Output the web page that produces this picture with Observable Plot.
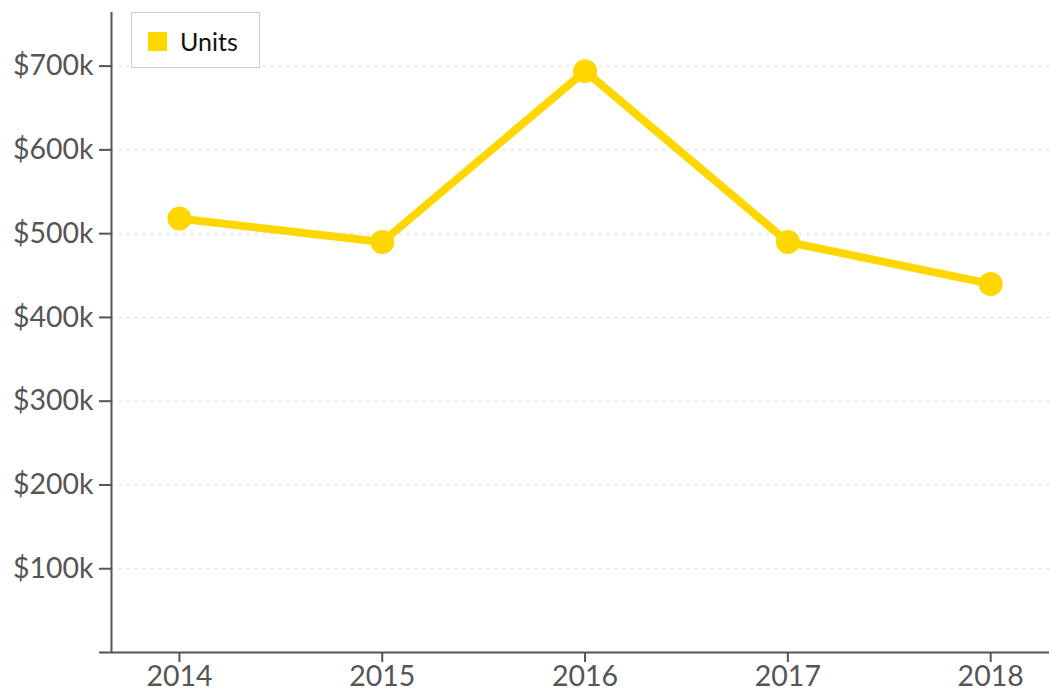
<!DOCTYPE html>
<html>
<head>
<meta charset="utf-8">
<script src="https://cdn.jsdelivr.net/npm/d3@7"></script>
<script src="https://cdn.jsdelivr.net/npm/@observablehq/plot@0.6"></script>
<style>
  html, body { margin: 0; padding: 0; background: #fff; }
  #wrap { position: relative; width: 1049px; height: 695px; font-family: Lato, sans-serif; }
  #legend { position: absolute; left: 131px; top: 12px; width: 127px; height: 54px; border: 1px solid #ccc; box-sizing: content-box; background: #fff; }
  #legend .sw { position: absolute; left: 16px; top: 19px; width: 19px; height: 19px; background: #FFD700; }
  #legend .lb { position: absolute; left: 48px; top: 13px; font-size: 25px; color: #111; line-height: 30px; }
</style>
</head>
<body>
<div id="wrap"><div id="chart"></div><div id="legend"><div class="sw"></div><div class="lb">Units</div></div></div>
<script>
const years = [2014, 2015, 2016, 2017, 2018];
const units = [518000, 490000, 694000, 490000, 440000];
const yTicks = [0, 100000, 200000, 300000, 400000, 500000, 600000, 700000];
const seriesName = "Units";

const data = years.map((y, i) => ({year: y, value: units[i]}));
const xMin = 2013.665, xMax = 2018.29;

const chart = Plot.plot({
  width: 1049,
  height: 695,
  marginLeft: 111,
  marginRight: 0,
  marginTop: 12,
  marginBottom: 43,
  style: {fontFamily: "Lato, sans-serif", fontSize: "28.5px", color: "#555", background: "#fff"},
  x: {domain: [xMin, xMax], label: null},
  y: {domain: [0, 764000], label: null},
  marks: [
    Plot.gridY(yTicks.filter(d => d > 0), {stroke: "#ccc", strokeOpacity: 1, strokeDasharray: "2,6", strokeWidth: 1}),
    Plot.axisY(yTicks, {label: null, tickSize: 12, tickPadding: 6, stroke: "#555", strokeWidth: 2, fill: "#555", tickFormat: d => d === 0 ? "" : `$${d / 1000}k`}),
    Plot.axisX(years, {label: null, tickSize: 10, tickPadding: 3, stroke: "#555", strokeWidth: 2, fill: "#555", tickFormat: d => String(d)}),
    Plot.ruleX([xMin], {stroke: "#555", strokeWidth: 2}),
    Plot.ruleY([0], {stroke: "#555", strokeWidth: 2}),
    Plot.line(data, {x: "year", y: "value", stroke: "#FFD700", strokeWidth: 8}),
    Plot.dot(data, {x: "year", y: "value", r: 12, fill: "#FFD700", stroke: "none"})
  ]
});
document.getElementById("chart").appendChild(chart);
</script>
</body>
</html>
